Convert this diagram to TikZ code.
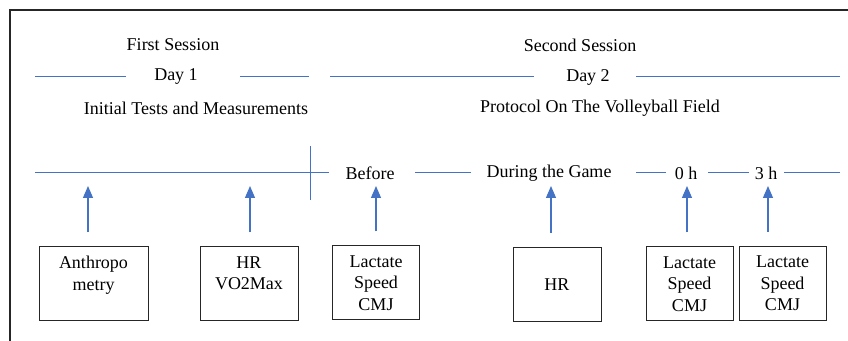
\documentclass[tikz,border=0pt]{standalone}
\usepackage{fontspec}
\setmainfont{Liberation Serif}
\usetikzlibrary{arrows.meta}
\definecolor{lineblue}{HTML}{4472C4}
\begin{document}
\begin{tikzpicture}[x=0.5pt, y=-0.5pt,
        every node/.style={font=\fontsize{9}{10.8}\selectfont},
        tl/.style={lineblue, line width=0.5pt},
        arr/.style={-{Triangle[width=5pt,length=6pt]}, lineblue, line width=0.6pt},
        mbox/.style={draw=black!85, line width=0.5pt, align=center,
                     minimum height=37pt, inner sep=0pt}
    ]
    \useasboundingbox (0,0) rectangle (848,341);
    % frame
    \draw[line width=1.2pt, black!85] (10,341) -- (10,10) -- (848,10);

    % sessions
    \node (s1) at (173,45) {First Session};
    \node (d1) at (176,77) {Day 1};
    \node (p1) at (196,108) {Initial Tests and Measurements};
    \node (s2) at (580,45) {Second Session};
    \node (d2) at (588,77) {Day 2};
    \node (p2) at (600,108) {Protocol On The Volleyball Field};
    \foreach \a/\b in {35/126, 240/309, 330/534, 636/840}
        \draw[tl] (\a,77) -- (\b,77);

    % timeline
    \node (bef) at (370,173) {Before};
    \node (game) at (549,173) {During the Game};
    \node (h0) at (686,173) {0 h};
    \node (h3) at (766,173) {3 h};
    \foreach \a/\b in {35/329, 415/471, 636/666, 708/749, 784/840}
        \draw[tl] (\a,173) -- (\b,173);
    \draw[tl] (310,146) -- (310,200);

    % measurements
    \node[mbox, minimum width=54.5pt, text depth=11pt] (b1) at (93.5,284) {Anthropo\\metry};
    \node[mbox, minimum width=49pt, text depth=11pt] (b2) at (249,284) {HR\\VO2Max};
    \node[mbox, minimum width=43.5pt] (b3) at (376,283) {Lactate\\Speed\\CMJ};
    \node[mbox, minimum width=44pt] (b4) at (557,284.5) {HR};
    \node[mbox, minimum width=43.5pt] (b5) at (689.5,284) {Lactate\\Speed\\CMJ};
    \node[mbox, minimum width=43.5pt] (b6) at (782.5,283.5) {Lactate\\Speed\\CMJ};

    % arrows up to the timeline
    \foreach \b/\x in {b1/88, b2/250, b3/376, b4/551, b5/687, b6/768}
        \draw[arr, shorten <=7pt] (\x,0 |- \b.north) -- (\x,186);
\end{tikzpicture}
\end{document}
